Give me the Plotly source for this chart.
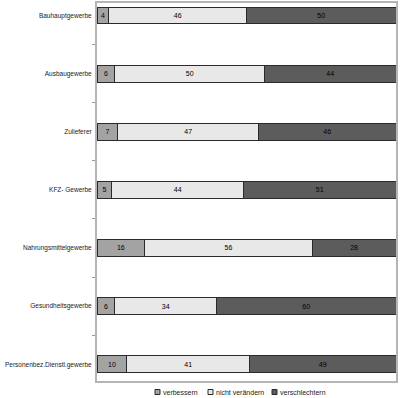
import plotly.graph_objects as go

categories = ["Bauhauptgewerbe", "Ausbaugewerbe", "Zulieferer", "KFZ- Gewerbe",
              "Nahrungsmittelgewerbe", "Gesundheitsgewerbe", "Personenbez.Dienstl.gewerbe"]
verbessern = [4, 6, 7, 5, 16, 6, 10]
nicht_veraendern = [46, 50, 47, 44, 56, 34, 41]
verschlechtern = [50, 44, 46, 51, 28, 60, 49]

series_names = ["verbessern", "nicht verändern", "verschlechtern"]
series_values = [verbessern, nicht_veraendern, verschlechtern]
series_colors = ["#a3a3a3", "#e8e8e8", "#5c5c5c"]

FONT = "Liberation Sans, Arial, sans-serif"
W, H = 402, 398
L, R, T, B = 97, 6, 3, 17

fig = go.Figure()
for name, vals, color in zip(series_names, series_values, series_colors):
    fig.add_trace(go.Bar(
        y=categories, x=vals, name=name, orientation="h",
        marker=dict(color=color, line=dict(color="#2a2a2a", width=1)),
        text=[str(v) for v in vals], textposition="inside",
        insidetextanchor="middle", textangle=0,
        textfont=dict(size=7, color="#000000", family=FONT),
        constraintext="none", width=0.29, showlegend=False,
    ))

# custom legend (small bordered squares + labels), centered below the plot
pw = W - L - R
ph = H - T - B
def px_x(x):
    return (x - L) / pw
def px_y(y):
    return (H - B - y) / ph

legend_x = [155, 208, 272]
ly = 392
shapes = []
annotations = []
for name, color, lx in zip(series_names, series_colors, legend_x):
    shapes.append(dict(type="rect", xref="paper", yref="paper",
                       x0=px_x(lx), x1=px_x(lx + 5), y0=px_y(ly + 2.5), y1=px_y(ly - 2.5),
                       fillcolor=color, line=dict(color="#2a2a2a", width=1)))
    annotations.append(dict(xref="paper", yref="paper", x=px_x(lx + 6), y=px_y(ly),
                            xanchor="left", yanchor="middle", text=name, showarrow=False,
                            font=dict(size=7, color="#222222", family=FONT)))

fig.update_layout(
    barmode="stack",
    width=W, height=H,
    margin=dict(l=L, r=R, t=T, b=B, autoexpand=False),
    plot_bgcolor="white", paper_bgcolor="white",
    font=dict(family=FONT, size=7, color="#222222"),
    showlegend=False,
    shapes=shapes, annotations=annotations,
    uniformtext=dict(minsize=6, mode="show"),
)
fig.update_xaxes(range=[0, 100], showticklabels=False, showgrid=False, zeroline=False,
                 showline=True, linecolor="#b5b5b5", linewidth=2, mirror=True, ticks="",
                 automargin=False)
fig.update_yaxes(type="category", categoryorder="array", categoryarray=categories,
                 range=[6.288, -0.214], showgrid=False, zeroline=False,
                 showline=True, linecolor="#b5b5b5", linewidth=2, mirror=True,
                 ticks="outside", tickson="boundaries", ticklen=3, tickcolor="#999999",
                 ticklabelstandoff=2,
                 automargin=False, tickfont=dict(size=6.5, color="#222222", family=FONT))

fig.write_html("out.html", config={"displayModeBar": False},
               post_script="document.body.style.margin='0px';")
